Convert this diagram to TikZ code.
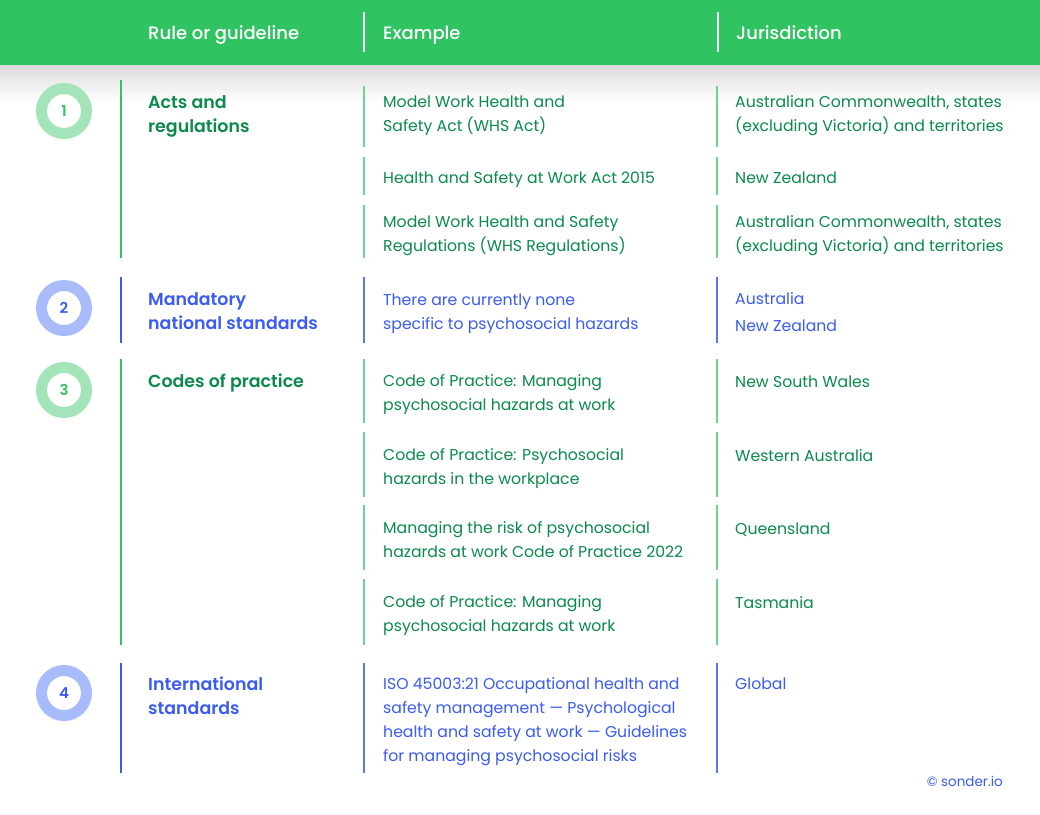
\documentclass[tikz,border=0pt]{standalone}
\usepackage{fontspec}
\setmainfont{Poppins}[BoldFont={Poppins SemiBold}]
\newfontfamily\medfont{Poppins Medium}
\usetikzlibrary{calc}
\definecolor{hgreen}{HTML}{30C361}
\definecolor{dgreen}{HTML}{0B8A4C}
\definecolor{lgreen}{HTML}{A3E4B8}
\definecolor{sgreen}{HTML}{6FD28F}
\definecolor{tblue}{HTML}{3A5CF2}
\definecolor{lblue}{HTML}{A8BCFB}
\definecolor{sblue}{HTML}{5B78F0}
\newcounter{tn}
\newcommand{\tl}[4]{\stepcounter{tn}\node[txt,text=#3] (t\arabic{tn}) at (#1,#2) {#4};}
\tikzset{
 txt/.style={anchor=mid west,inner sep=0pt,yshift=-3.5pt,font=\fontsize{15.7}{18}\selectfont},
 ttl/.style={anchor=mid west,inner sep=0pt,yshift=-4pt,font=\fontsize{17.4}{20}\selectfont\bfseries},
 hdr/.style={anchor=mid west,inner sep=0pt,yshift=-4pt,text=white,font=\fontsize{18}{20}\selectfont\medfont},
 ring/.style={circle,line width=11pt,minimum size=45pt,inner sep=0pt,fill=white},
 num/.style={font=\fontsize{15}{18}\selectfont\bfseries},
 sep/.style={line width=1.2pt},
}
\begin{document}
\begin{tikzpicture}[x=1pt,y=-1pt]
\useasboundingbox (0,0) rectangle (1040,814);
\fill[white] (0,0) rectangle (1040,814);
\shade[top color=black!14,bottom color=white] (0,65) rectangle (1040,102);
\fill[hgreen] (0,0) rectangle (1040,65);
\draw[white,sep] (364,12) -- (364,52);
\draw[white,sep] (718,12) -- (718,52);
\node[hdr] (h1) at (148,33) {Rule or guideline};
\node[hdr] (h2) at (383,33) {Example};
\node[hdr] (h3) at (736,33) {Jurisdiction};
% circles
\node[ring,draw=lgreen] (c1) at (64,111) {}; \node[num,text=hgreen] at (c1) {1};
\node[ring,draw=lblue] (c2) at (64,308) {}; \node[num,text=tblue] at (c2) {2};
\node[ring,draw=lgreen] (c3) at (64,390) {}; \node[num,text=hgreen] at (c3) {3};
\node[ring,draw=lblue] (c4) at (64,693) {}; \node[num,text=tblue] at (c4) {4};
% left lines
\draw[hgreen,sep] (121,80) -- (121,258);
\draw[tblue,sep] (121,277) -- (121,343);
\draw[hgreen,sep] (121,359) -- (121,645);
\draw[tblue,sep] (121,663) -- (121,773);
% example and jurisdiction lines
\foreach \a/\b in {86/147,157/195,205/258,359/423,432/497,505/570,579/645}{
 \draw[sgreen,sep] (364,\a) -- (364,\b);
 \draw[sgreen,sep] (717,\a) -- (717,\b);}
\foreach \a/\b in {277/343,663/773}{
 \draw[sblue,sep] (364,\a) -- (364,\b);
 \draw[sblue,sep] (717,\a) -- (717,\b);}
% titles
\node[ttl,text=dgreen] (r1a) at (148,102) {Acts and};
\node[ttl,text=dgreen] (r1b) at (148,126) {regulations};
\node[ttl,text=tblue] (r2a) at (148,299) {Mandatory};
\node[ttl,text=tblue] (r2b) at (148,323) {national standards};
\node[ttl,text=dgreen] (r3a) at (148,381) {Codes of practice};
\node[ttl,text=tblue] (r4a) at (148,684) {International};
\node[ttl,text=tblue] (r4b) at (148,708) {standards};
% examples
\tl{383}{101}{dgreen}{Model Work Health and}
\tl{383}{125}{dgreen}{Safety Act (WHS Act)}
\tl{383}{177}{dgreen}{Health and Safety at Work Act 2015}
\tl{383}{221}{dgreen}{Model Work Health and Safety}
\tl{383}{245}{dgreen}{Regulations (WHS Regulations)}
\tl{383}{299}{tblue}{There are currently none}
\tl{383}{323}{tblue}{specific to psychosocial hazards}
\tl{383}{380}{dgreen}{Code of Practice: Managing}
\tl{383}{404}{dgreen}{psychosocial hazards at work}
\tl{383}{454}{dgreen}{Code of Practice: Psychosocial}
\tl{383}{478}{dgreen}{hazards in the workplace}
\tl{383}{527}{dgreen}{Managing the risk of psychosocial}
\tl{383}{551}{dgreen}{hazards at work Code of Practice 2022}
\tl{383}{601}{dgreen}{Code of Practice: Managing}
\tl{383}{625}{dgreen}{psychosocial hazards at work}
\tl{383}{683}{tblue}{ISO 45003:21 Occupational health and}
\tl{383}{707}{tblue}{safety management — Psychological}
\tl{383}{731}{tblue}{health and safety at work — Guidelines}
\tl{383}{755}{tblue}{for managing psychosocial risks}
% jurisdictions
\tl{735}{101}{dgreen}{Australian Commonwealth, states}
\tl{735}{125}{dgreen}{(excluding Victoria) and territories}
\tl{735}{177}{dgreen}{New Zealand}
\tl{735}{221}{dgreen}{Australian Commonwealth, states}
\tl{735}{245}{dgreen}{(excluding Victoria) and territories}
\tl{735}{298}{tblue}{Australia}
\tl{735}{325}{tblue}{New Zealand}
\tl{735}{381}{dgreen}{New South Wales}
\tl{735}{455}{dgreen}{Western Australia}
\tl{735}{528}{dgreen}{Queensland}
\tl{735}{602}{dgreen}{Tasmania}
\tl{735}{683}{tblue}{Global}
\node[anchor=mid east,inner sep=0pt,yshift=-3pt,text=tblue,font=\fontsize{13.5}{16}\selectfont] (foot) at (1003,781) {© sonder.io};
\end{tikzpicture}
\end{document}
